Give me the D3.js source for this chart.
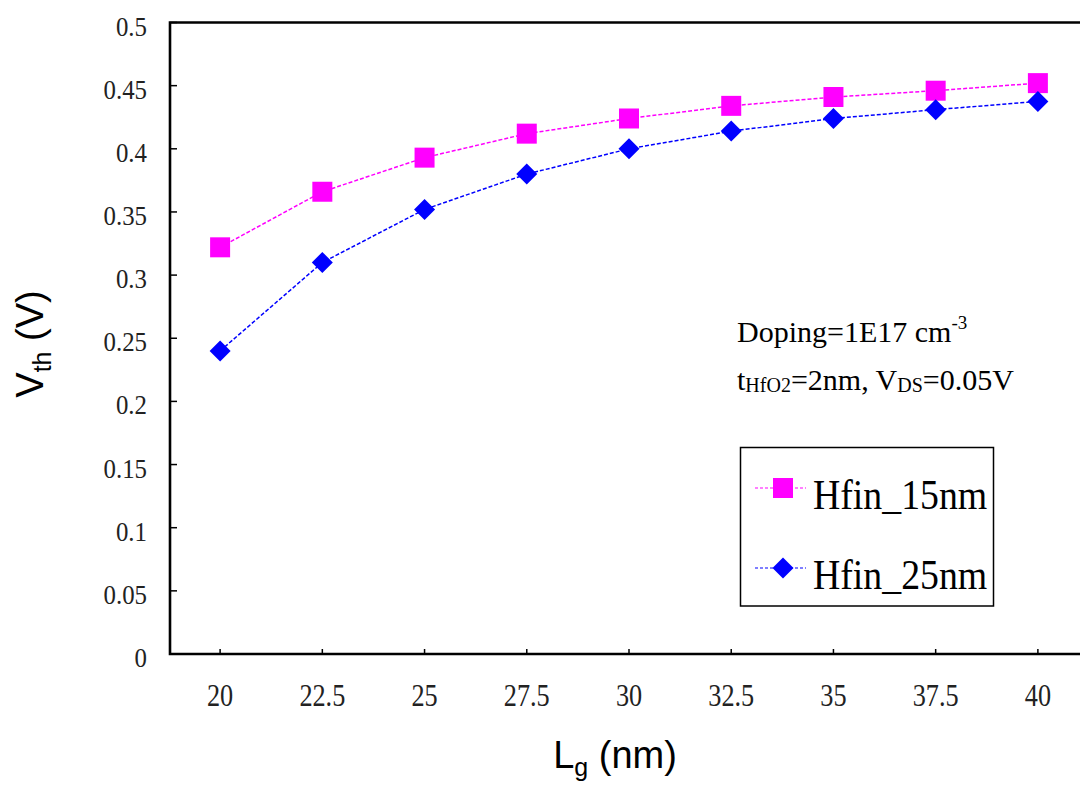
<!DOCTYPE html>
<html><head><meta charset="utf-8">
<script src="https://cdn.jsdelivr.net/npm/d3@7"></script>
<style>body{margin:0;background:#fff}svg{display:block}</style>
</head><body>
<svg id="c" width="1080" height="787"></svg>
<script>
const categories = [20, 22.5, 25, 27.5, 30, 32.5, 35, 37.5, 40];
const hfin15 = [0.322, 0.366, 0.393, 0.412, 0.424, 0.434, 0.441, 0.446, 0.452];
const hfin25 = [0.240, 0.310, 0.352, 0.380, 0.400, 0.414, 0.424, 0.431, 0.4375];
const yTicks = [0, 0.05, 0.1, 0.15, 0.2, 0.25, 0.3, 0.35, 0.4, 0.45, 0.5];
const seriesNames = ["Hfin_15nm", "Hfin_25nm"];

const svg = d3.select("#c");
const serif = "'Liberation Serif','Times New Roman',serif";
const sans = "'Liberation Sans',Arial,sans-serif";

const x = d3.scalePoint().domain(categories).range([169, 1089]).padding(0.5);
const y = d3.scaleLinear().domain([0, 0.5]).range([654, 22.5]);

// y axis ticks
const gy = svg.append("g");
gy.selectAll("line.t").data(yTicks.slice(1)).join("line")
  .attr("x1", 170).attr("x2", 177).attr("y1", d => y(d)).attr("y2", d => y(d))
  .attr("stroke", "#000").attr("stroke-width", 1.5);
gy.selectAll("text").data(yTicks).join("text")
  .attr("transform", d => `translate(147,${y(d) + 13}) scale(0.92,1)`).attr("text-anchor", "end")
  .attr("font-family", serif).attr("font-size", 27).attr("fill", "#222")
  .text(d => d3.format("")(d));

// x axis ticks
const gx = svg.append("g");
gx.selectAll("line").data(categories).join("line")
  .attr("x1", d => x(d)).attr("x2", d => x(d)).attr("y1", 654).attr("y2", 649)
  .attr("stroke", "#000").attr("stroke-width", 1.5);
gx.selectAll("text").data(categories).join("text")
  .attr("transform", d => `translate(${x(d)},706) scale(0.82,1)`)
  .attr("text-anchor", "middle")
  .attr("font-family", serif).attr("font-size", 32).attr("fill", "#222")
  .text(d => d);

// spines
svg.append("path").attr("d", `M1080,${y(0.5)}H170V${y(0)}H1080`)
  .attr("fill", "none").attr("stroke", "#000").attr("stroke-width", 2.6);

// series
const line = d3.line().x((d, i) => x(categories[i])).y(d => y(d));
const sq = d3.symbol().type(d3.symbolSquare).size(400);

function diamondPath(r) { return `M0,${-r}L${r},0L0,${r}L${-r},0Z`; }

svg.append("path").datum(hfin15).attr("d", line)
  .attr("fill", "none").attr("stroke", "#ff00ff").attr("stroke-width", 1.5).attr("stroke-dasharray", "4,2");
svg.append("path").datum(hfin25).attr("d", line)
  .attr("fill", "none").attr("stroke", "#0000ff").attr("stroke-width", 1.5).attr("stroke-dasharray", "4,2");

svg.selectAll("path.s15").data(hfin15).join("path").attr("class", "s15")
  .attr("transform", (d, i) => `translate(${x(categories[i])},${y(d)})`)
  .attr("d", sq).attr("fill", "#ff00ff");
svg.selectAll("path.s25").data(hfin25).join("path").attr("class", "s25")
  .attr("transform", (d, i) => `translate(${x(categories[i])},${y(d)})`)
  .attr("d", diamondPath(10.5)).attr("fill", "#0000ff");

// axis titles
const yt = svg.append("text").attr("transform", "translate(43,344) rotate(-90)")
  .attr("text-anchor", "middle").attr("font-family", sans).attr("font-size", 38).attr("fill", "#000");
yt.append("tspan").text("V");
yt.append("tspan").attr("font-size", 25).attr("dy", 8).text("th");
yt.append("tspan").attr("dy", -8).text(" (V)");

const xt = svg.append("text").attr("x", 615).attr("y", 768)
  .attr("text-anchor", "middle").attr("font-family", sans).attr("font-size", 38).attr("fill", "#000");
xt.append("tspan").text("L");
xt.append("tspan").attr("font-size", 25).attr("dy", 8).text("g");
xt.append("tspan").attr("dy", -8).text(" (nm)");

// annotation
const a1 = svg.append("text").attr("x", 737).attr("y", 342)
  .attr("font-family", serif).attr("font-size", 30).attr("fill", "#000");
a1.append("tspan").text("Doping=1E17 cm");
a1.append("tspan").attr("font-size", 19).attr("dy", -13).text("-3");
const a2 = svg.append("text").attr("x", 737).attr("y", 390)
  .attr("font-family", serif).attr("font-size", 30).attr("fill", "#000");
a2.append("tspan").text("t");
a2.append("tspan").attr("font-size", 20).attr("dy", 2).text("HfO2");
a2.append("tspan").attr("dy", -2).text("=2nm, V");
a2.append("tspan").attr("font-size", 20).attr("dy", 2).text("DS");
a2.append("tspan").attr("dy", -2).text("=0.05V");

// legend
svg.append("rect").attr("x", 740.5).attr("y", 447.5).attr("width", 253).attr("height", 158.5)
  .attr("fill", "#fff").attr("stroke", "#000").attr("stroke-width", 1.5);
const leg = [
  {name: seriesNames[0], color: "#ff00ff", y: 488, shape: "sq"},
  {name: seriesNames[1], color: "#0000ff", y: 568, shape: "dia"}
];
leg.forEach(L => {
  svg.append("line").attr("x1", 755).attr("x2", 806).attr("y1", L.y).attr("y2", L.y)
    .attr("stroke", L.color).attr("stroke-width", 1.2).attr("stroke-dasharray", "3,2");
  svg.append("path").attr("transform", `translate(783,${L.y})`)
    .attr("d", L.shape === "sq" ? sq : diamondPath(10.5)).attr("fill", L.color);
  svg.append("text").attr("transform", `translate(813,${L.y + 21}) scale(0.9,1)`)
    .attr("font-family", serif).attr("font-size", 42).attr("fill", "#000").text(L.name);
});
</script>
</body></html>
